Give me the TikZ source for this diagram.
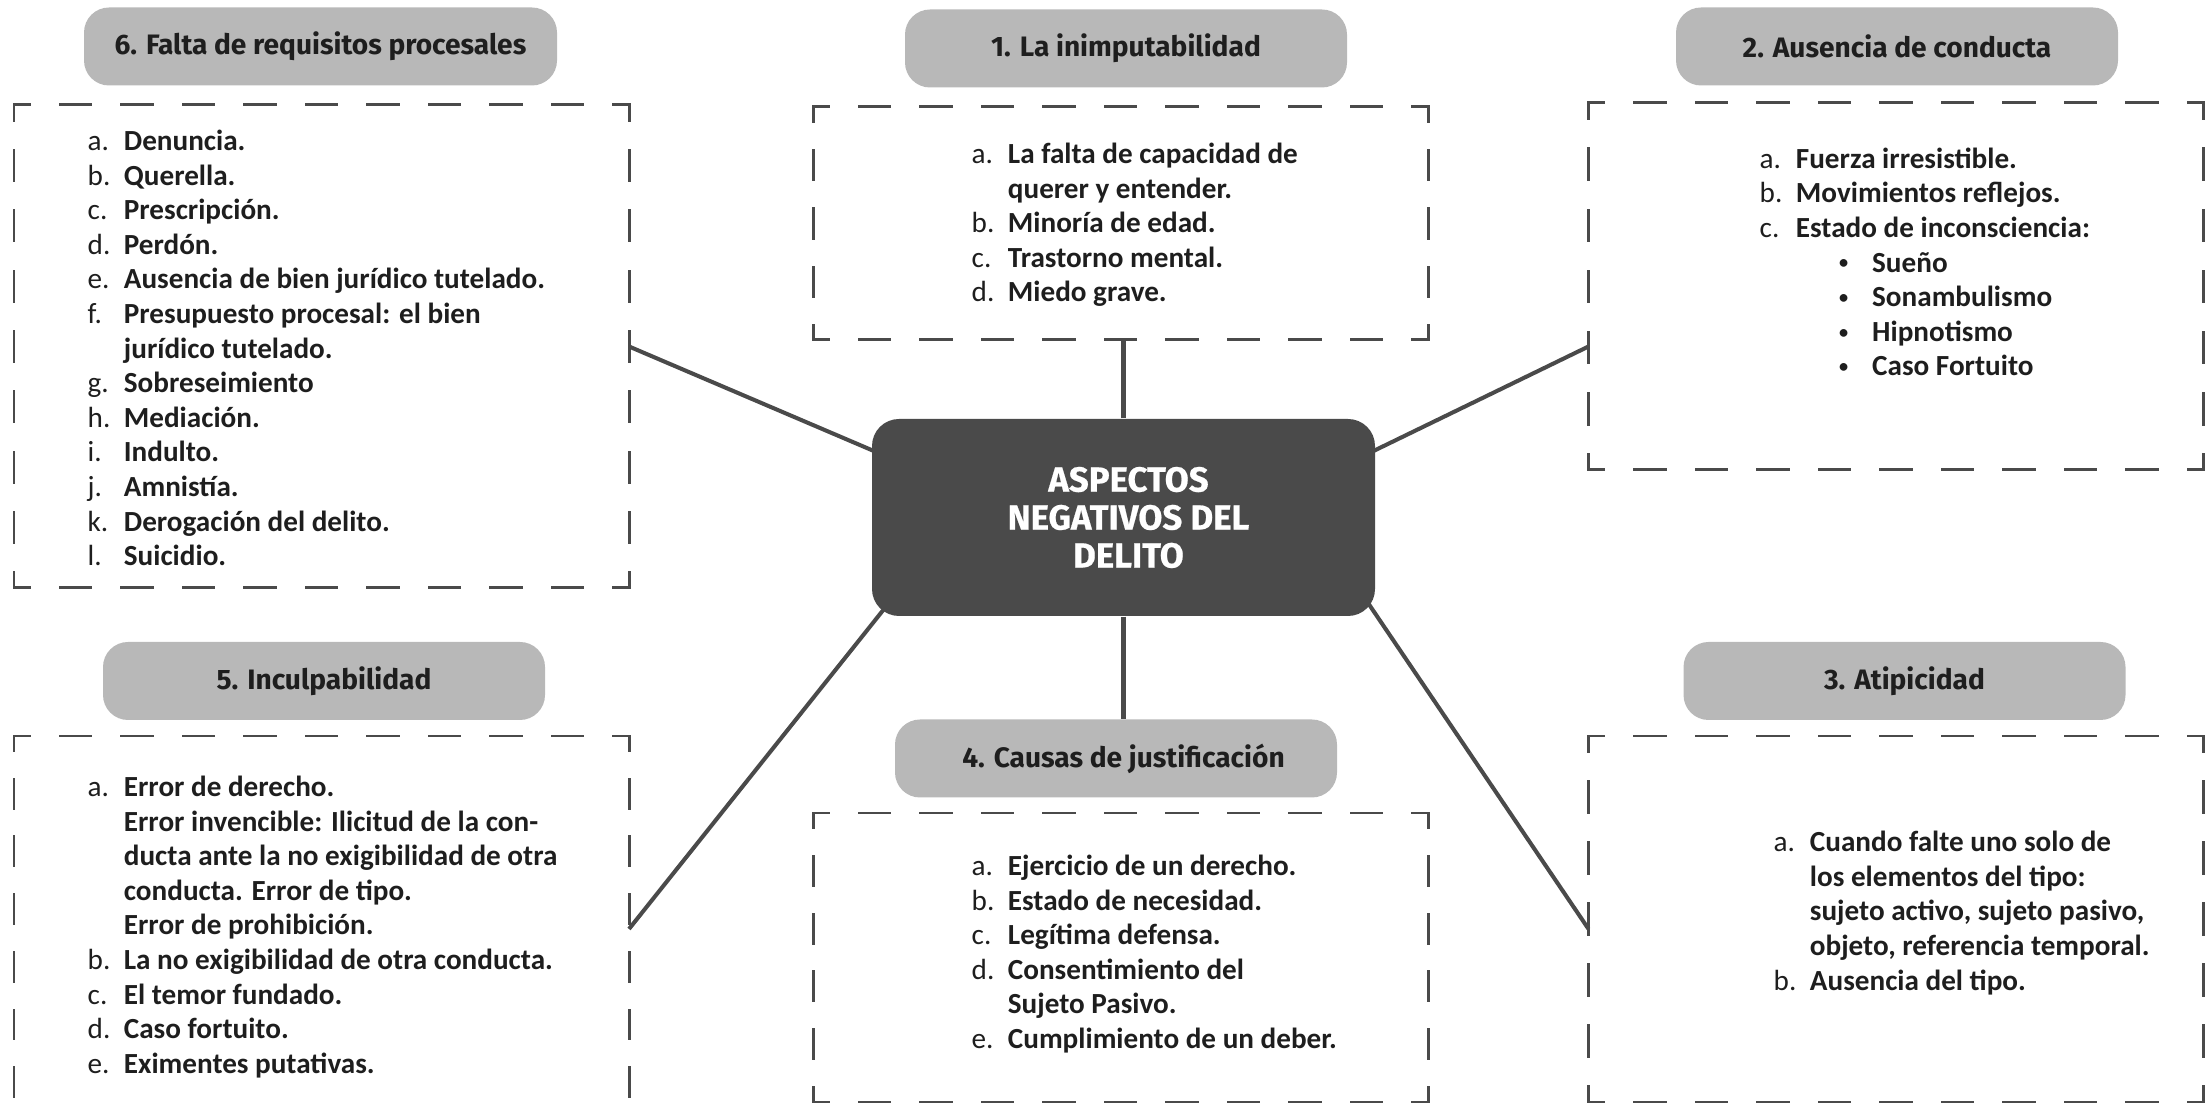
\documentclass[tikz,border=0pt]{standalone}
\usepackage{fontspec}
\setmainfont{Carlito}
\newfontfamily\headfont{Fira Sans}
\newfontfamily\heavyfont{Fira Sans}[BoldFeatures={FakeBold=0.6}]
\usetikzlibrary{calc,backgrounds}

\definecolor{linegray}{HTML}{4A4A4A}
\definecolor{headgray}{HTML}{B8B8B8}
\definecolor{inkgray}{HTML}{1E1E1E}

\newcommand{\lbl}[1]{\makebox[10.3pt][l]{\mdseries #1}}
\newcommand{\cont}{\hspace*{10.3pt}}
\newcommand{\bul}{\hspace*{22.6pt}\makebox[9.4pt][l]{\raisebox{0.9pt}{\fontsize{5.2}{6}\selectfont\textbullet}}}

\begin{document}
\begin{tikzpicture}[
 header/.style={fill=headgray,rounded corners=0.25cm,minimum width=4.42cm,minimum height=0.78cm,inner sep=0pt,text=inkgray,font=\headfont\bfseries\fontsize{8}{9.6}\selectfont},
 central/.style={fill=linegray,rounded corners=0.27cm,minimum width=5.03cm,minimum height=1.97cm,text=white,align=center,font=\heavyfont\bfseries\fontsize{9.9}{10.8}\selectfont},
 frame/.style={minimum width=6.15cm,inner sep=0pt,outer sep=0pt},
 frameline/.style={draw=linegray,line width=0.85pt,line cap=rect},
 items/.style={anchor=west,align=left,inner sep=0pt,text=inkgray,font=\bfseries\fontsize{8.3}{9.85}\selectfont},
 link/.style={draw=linegray,line width=1.15pt},
]
\useasboundingbox (0,0) rectangle (22.06,-11.04);
\clip (0,0) rectangle (22.06,-11.04);

% Centre
\node[central] (center) at (11.235,-5.175) {\hspace*{0.1cm}ASPECTOS\\\hspace*{0.1cm}NEGATIVOS DEL\\\hspace*{0.1cm}DELITO};

% Headers
\node[header,minimum width=4.73cm] (h6) at (3.205,-0.465) {6. Falta de requisitos procesales};
\node[header] (h1) at (11.26,-0.485) {1. La inimputabilidad};
\node[header] (h2) at (18.97,-0.465) {2. Ausencia de conducta};
\node[header] (h5) at (3.24,-6.81) {5. Inculpabilidad};
\node[header] (h4) at (11.16,-7.585) {\hspace*{0.15cm}4. Causas de justificación};
\node[header] (h3) at (19.045,-6.81) {3. Atipicidad};

% Dashed frames: name/centre x/top/bottom/dashes down a side
\foreach \name/\cx/\ya/\yb/\k in {six/3.215/1.05/5.88/8, one/11.205/1.07/3.40/4, two/18.96/1.03/4.70/6, five/3.215/7.36/11.40/7, four/11.205/8.13/11.02/5, three/18.96/7.36/11.02/6}{
  \pgfmathsetmacro\hgt{\yb-\ya}
  \pgfmathsetmacro\von{\hgt/\k/2}
  \pgfmathsetmacro\vph{\von/2}
  \node[frame,minimum height=\hgt cm] (\name) at (\cx,-\ya-\hgt/2) {};
  \draw[frameline,dash pattern=on 0.3075cm off 0.3075cm,dash phase=0.15375cm] (\name.north west) -- (\name.north east);
  \draw[frameline,dash pattern=on 0.3075cm off 0.3075cm,dash phase=0.15375cm] (\name.south west) -- (\name.south east);
  \draw[frameline,dash pattern=on \von cm off \von cm,dash phase=\vph cm] (\name.north west) -- (\name.south west);
  \draw[frameline,dash pattern=on \von cm off \von cm,dash phase=\vph cm] (\name.north east) -- (\name.south east);
}

% Lists
\node[items] (list6) at (0.87,-3.48) {\lbl{a.}Denuncia.\\
  \lbl{b.}Querella.\\
  \lbl{c.}Prescripción.\\
  \lbl{d.}Perdón.\\
  \lbl{e.}Ausencia de bien jurídico tutelado.\\
  \lbl{f.}Presupuesto procesal: el bien\\
  \cont jurídico tutelado.\\
  \lbl{g.}Sobreseimiento\\
  \lbl{h.}Mediación.\\
  \lbl{i.}Indulto.\\
  \lbl{j.}Amnistía.\\
  \lbl{k.}Derogación del delito.\\
  \lbl{l.}Suicidio.};
\node[items] (list1) at (9.71,-2.25) {\lbl{a.}La falta de capacidad de\\
  \cont querer y entender.\\
  \lbl{b.}Minoría de edad.\\
  \lbl{c.}Trastorno mental.\\
  \lbl{d.}Miedo grave.};
\node[items] (list2) at (17.59,-2.62) {\lbl{a.}Fuerza irresistible.\\
  \lbl{b.}Movimientos reflejos.\\
  \lbl{c.}Estado de inconsciencia:\\
  \bul Sueño\\
  \bul Sonambulismo\\
  \bul Hipnotismo\\
  \bul Caso Fortuito};
\node[items] (list5) at (0.87,-9.27) {\lbl{a.}Error de derecho.\\
  \cont Error invencible: Ilicitud de la con-\\
  \cont ducta ante la no exigibilidad de otra\\
  \cont conducta. Error de tipo.\\
  \cont Error de prohibición.\\
  \lbl{b.}La no exigibilidad de otra conducta.\\
  \lbl{c.}El temor fundado.\\
  \lbl{d.}Caso fortuito.\\
  \lbl{e.}Eximentes putativas.};
\node[items] (list4) at (9.71,-9.54) {\lbl{a.}Ejercicio de un derecho.\\
  \lbl{b.}Estado de necesidad.\\
  \lbl{c.}Legítima defensa.\\
  \lbl{d.}Consentimiento del\\
  \cont Sujeto Pasivo.\\
  \lbl{e.}Cumplimiento de un deber.};
\node[items] (list3) at (17.73,-9.13) {\lbl{a.}Cuando falte uno solo de\\
  \cont los elementos del tipo:\\
  \cont sujeto activo, sujeto pasivo,\\
  \cont objeto, referencia temporal.\\
  \lbl{b.}Ausencia del tipo.};

% Connections
\coordinate (lowjoin) at ($(three.west)+(0,-0.1)$);
\begin{scope}[on background layer]
\draw[link] (center.north) -- (center.north |- one.south);
\draw[link] (center.south) -- (center.south |- h4.north);
\draw[link,shorten <=-0.2cm] (center.165) -- (six.east);
\draw[link,shorten <=-0.2cm] (center.15) -- (two.west |- six.east);
\draw[link,shorten <=-0.2cm] (center.202) -- (five.east |- lowjoin);
\draw[link,shorten <=-0.2cm] (center.-21) -- (lowjoin);
\end{scope}
\end{tikzpicture}
\end{document}
